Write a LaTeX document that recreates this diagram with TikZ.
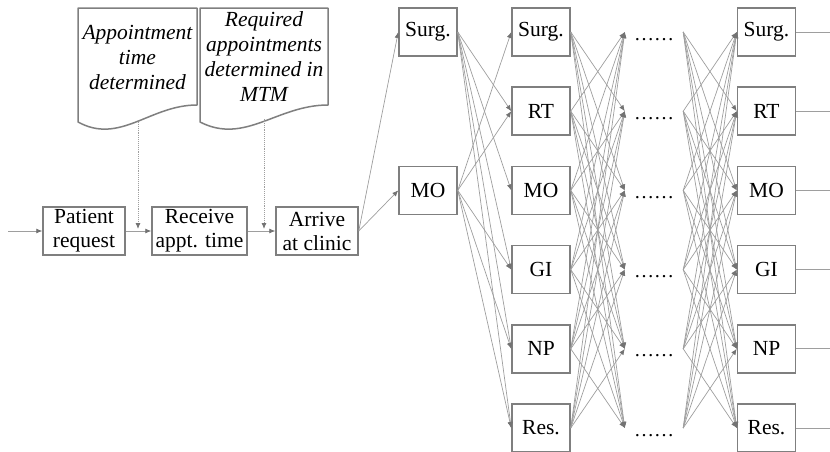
\documentclass[tikz,border=0pt]{standalone}
\usepackage{fontspec}
\setmainfont{Liberation Serif}
\usetikzlibrary{arrows.meta}
\definecolor{boxgray}{RGB}{127,127,127}
\definecolor{linkgray}{RGB}{158,158,158}
\definecolor{tipgray}{RGB}{115,115,115}
\tikzset{
  unit/.style={draw=boxgray, line width=1.5pt, minimum width=58pt, minimum height=48pt, inner sep=0pt, font=\fontsize{21.5}{24}\selectfont},
  proc/.style={unit, align=center},
  gap/.style={minimum width=58pt, minimum height=48pt, inner sep=0pt, text height=16pt, text depth=0pt, font=\fontsize{20}{23}\selectfont},
  link/.style={draw=linkgray, line width=0.7pt, -{Latex[length=6pt,width=5pt,color=tipgray]}},
  plain/.style={draw=linkgray, line width=0.7pt},
  feed/.style={draw=linkgray, line width=0.9pt, densely dotted, -{Latex[length=6pt,width=5pt,color=tipgray]}},
  note/.style={draw=boxgray, line width=1.5pt, fill=white, line join=round},
  notetext/.style={align=center, inner sep=0pt, font=\fontsize{21.5}{25}\selectfont\itshape}
}
\begin{document}
\begin{tikzpicture}[x=1pt, y=-1pt]
\path[use as bounding box] (0,0) rectangle (830,451);
\clip (0,0) rectangle (830,451);
% Documents
\draw[note] (78,8) -- (197,8) -- (197,105) .. controls (150,105) and (120,145) .. (78,122) -- cycle;
\draw[note] (200,8) -- (328,8) -- (328,105) .. controls (277,105) and (245,145) .. (200,122) -- cycle;
\node[notetext] (t1) at (137.5,57) {Appointment\\time\\determined};
\node[notetext] (t2) at (264,57) {Required\\appointments\\determined in\\MTM};
\coordinate (doc1) at (138,122);
\coordinate (doc2) at (264,119);
% Process
\coordinate (in) at (8,231);
\node[proc, minimum width=82pt] (patient) at (84,231) {Patient\\request};
\node[proc, minimum width=95pt] (receive) at (199.5,231) {Receive\\appt. time};
\node[proc, minimum width=82pt] (arrive) at (317,231) {Arrive\\at clinic};
\coordinate (f1) at (138,229);
\coordinate (f2) at (264,229);
\draw[link] (in) -- (patient);
\draw[link] (patient) -- (receive);
\draw[link] (receive) -- (arrive);
\draw[feed] (doc1) -- (f1);
\draw[feed] (doc2) -- (f2);
% First visit
\node[unit] (a1) at (428,32) {Surg.};
\node[unit] (a3) at (428,190.4) {MO};
\draw[link] (arrive.east) -- (a1.west);
\draw[link] (arrive.east) -- (a3.west);
% Later visits
\foreach \lab [count=\i] in {Surg.,RT,MO,GI,NP,Res.} {
  \node[unit] (b\i) at (541,{32+79.2*(\i-1)}) {\lab};
  \node[gap] (c\i) at (654,{32+79.2*(\i-1)}) {……};
  \node[unit] (d\i) at (766.5,{32+79.2*(\i-1)}) {\lab};
  \coordinate (o\i) at (830,{32+79.2*(\i-1)});
}
\foreach \i in {1,3}
  \foreach \j in {1,...,6} {
    \ifnum\i=\j\else \draw[link] (a\i.east) -- (b\j.west); \fi
  }
\foreach \i in {1,...,6} {
  \draw[plain] (d\i.east) -- (o\i);
  \foreach \j in {1,...,6} {
    \ifnum\i=\j\else
      \draw[link] (b\i.east) -- (c\j.west);
      \draw[link] (c\i.east) -- (d\j.west);
    \fi
  }
}
\end{tikzpicture}
\end{document}
